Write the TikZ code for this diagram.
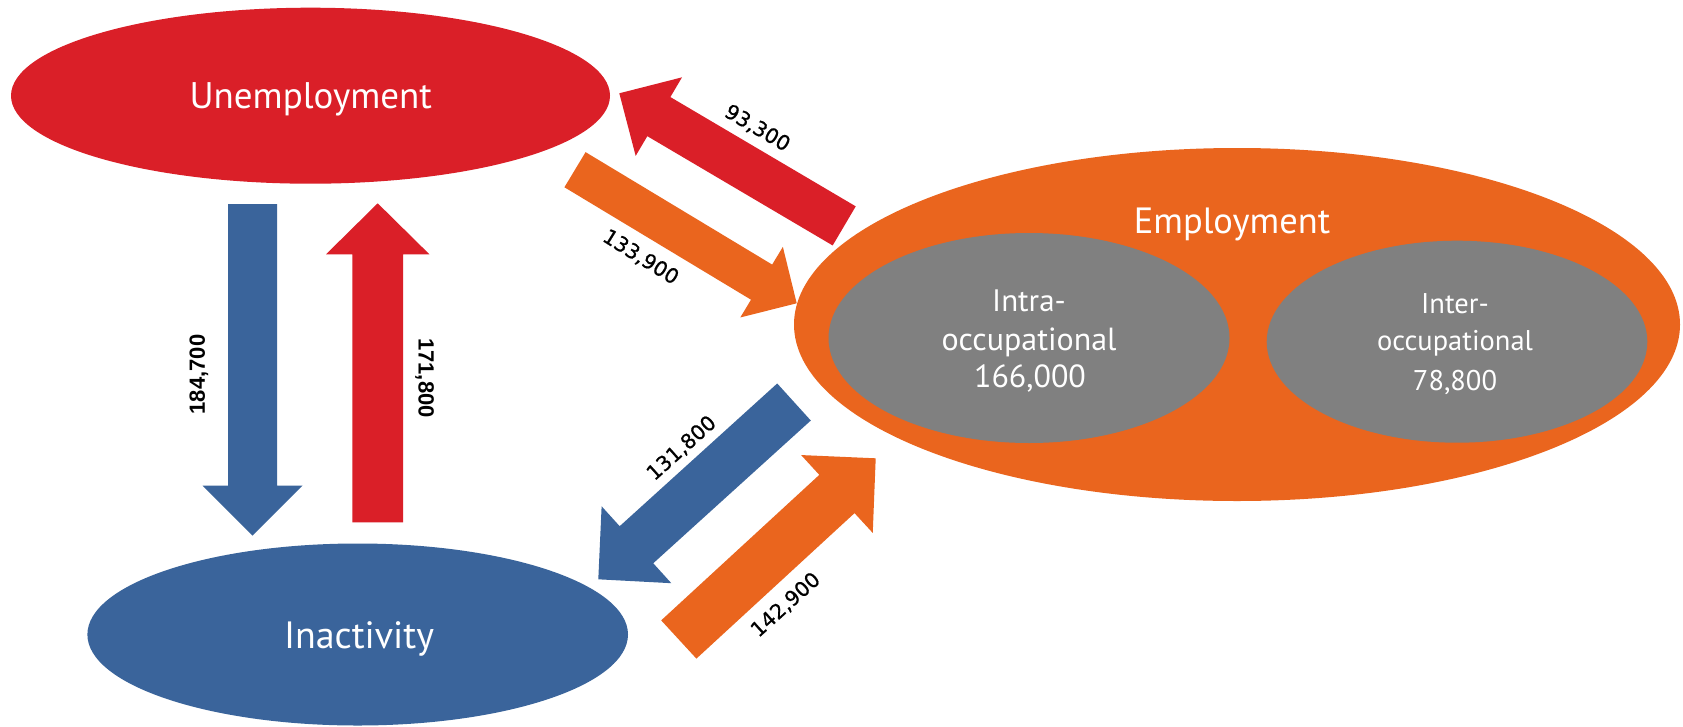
\documentclass[tikz,border=0pt]{standalone}
\usepackage{fontspec}
\setmainfont{PT Sans}
\newfontfamily\lblfont{Liberation Sans}
\newfontfamily\dlblfont{DejaVu Sans}[UprightFeatures={FakeBold=0.7}]
\usetikzlibrary{shapes.geometric,calc}
\definecolor{cRed}{RGB}{218,31,40}
\definecolor{cOrange}{RGB}{234,101,30}
\definecolor{cBlue}{RGB}{58,100,155}
\definecolor{cGray}{RGB}{128,128,128}
% block arrow: #1 tail, #2 tip, #3 shaft half width, #4 head half width, #5 head length, #6 colour
\newcommand\blockarrow[6]{%
  \coordinate (ba-h) at ($(#2)!#5!(#1)$);
  \fill[#6] ($(#1)!#3!90:(#2)$) -- ($(ba-h)!#3!-90:(#1)$) -- ($(ba-h)!#4!-90:(#1)$)
    -- (#2) -- ($(ba-h)!#4!90:(#1)$) -- ($(ba-h)!#3!90:(#1)$) -- ($(#1)!#3!-90:(#2)$) -- cycle;}
\begin{document}
\begin{tikzpicture}[x=1pt,y=-1pt,
  blob/.style={ellipse, inner sep=0pt, outer sep=0pt, draw=none},
  maintext/.style={text=white, anchor=base, inner sep=0pt},
  flowlbl/.style={font=\dlblfont\fontsize{20.5}{20.5}\selectfont, inner sep=0pt, text=black},
  vlbl/.style={font=\lblfont\bfseries\fontsize{22}{22}\selectfont, inner sep=0pt, text=black}]
\useasboundingbox (0,0) rectangle (1683,726);
\fill[white] (0,0) rectangle (1683,726);

% ellipses
\node[blob, fill=cRed, minimum width=599pt, minimum height=176pt] (unemp) at (310.5,95.7) {};
\node[blob, fill=cBlue, minimum width=540.6pt, minimum height=182pt] (inact) at (357.7,634.5) {};
\node[blob, fill=cOrange, minimum width=886pt, minimum height=353pt] (emp) at (1237,324.5) {};
\node[blob, fill=cGray, minimum width=401pt, minimum height=210pt] (intra) at (1029,338) {};
\node[blob, fill=cGray, minimum width=380.6pt, minimum height=202pt] (inter) at (1457,341.7) {};

% texts
\node[maintext, font=\fontsize{37}{37}\selectfont] (unempT) at (310.7,108) {Unemployment};
\node[maintext, font=\fontsize{38}{38}\selectfont] (inactT) at (359,648.3) {Inactivity};
\node[maintext, font=\fontsize{36.5}{36.5}\selectfont] (empT) at (1232,233.3) {Employment};
\node[maintext, font=\fontsize{31}{31}\selectfont] (intraA) at (1029,311.7) {Intra-};
\node[maintext, font=\fontsize{32}{32}\selectfont] (intraB) at (1029,350) {occupational};
\node[maintext, font=\fontsize{32}{32}\selectfont] (intraC) at (1030,387.3) {166,000};
\node[maintext, font=\fontsize{28.5}{28.5}\selectfont] (interA) at (1455,313.3) {Inter-};
\node[maintext, font=\fontsize{28.5}{28.5}\selectfont] (interB) at (1455,350) {occupational};
\node[maintext, font=\fontsize{28.5}{28.5}\selectfont] (interC) at (1455,390) {78,800};

% arrow end points
\coordinate (uiTail) at (252.5,204);   \coordinate (uiTip) at (252.5,535.7);
\coordinate (iuTail) at (377.7,522.3); \coordinate (iuTip) at (377.7,203.3);
\coordinate (euTail) at (844.2,225.9); \coordinate (euTip) at (619.3,93.3);
\coordinate (ueTail) at (575,169.7);   \coordinate (ueTip) at (796.7,303.3);
\coordinate (eiTail) at (794,402);     \coordinate (eiTip) at (598.3,579.3);
\coordinate (ieTail) at (678.8,639.5); \coordinate (ieTip) at (875.7,458.3);

\blockarrow{uiTail}{uiTip}{24.5pt}{50pt}{50pt}{cBlue}
\blockarrow{iuTail}{iuTip}{25.4pt}{51.7pt}{51pt}{cRed}
\blockarrow{euTail}{euTip}{22.7pt}{45.6pt}{45.9pt}{cRed}
\blockarrow{ueTail}{ueTip}{20.5pt}{41.2pt}{41pt}{cOrange}
\blockarrow{eiTail}{eiTip}{25pt}{51.9pt}{51.5pt}{cBlue}
\blockarrow{ieTail}{ieTip}{26pt}{52.9pt}{52.7pt}{cOrange}

% flow labels
\node[flowlbl, rotate=-30.5] (l93) at (757.3,128.3) {93,300};
\node[flowlbl, rotate=-32] (l133) at (640.7,257.3) {133,900};
\node[flowlbl, rotate=42] (l131) at (681.7,448.3) {131,800};
\node[flowlbl, rotate=42] (l142) at (785.8,605) {142,900};
\node[vlbl, rotate=90] (l184) at (199,374.5) {184,700};
\node[vlbl, rotate=-90] (l171) at (424.7,378) {171,800};
\end{tikzpicture}
\end{document}
